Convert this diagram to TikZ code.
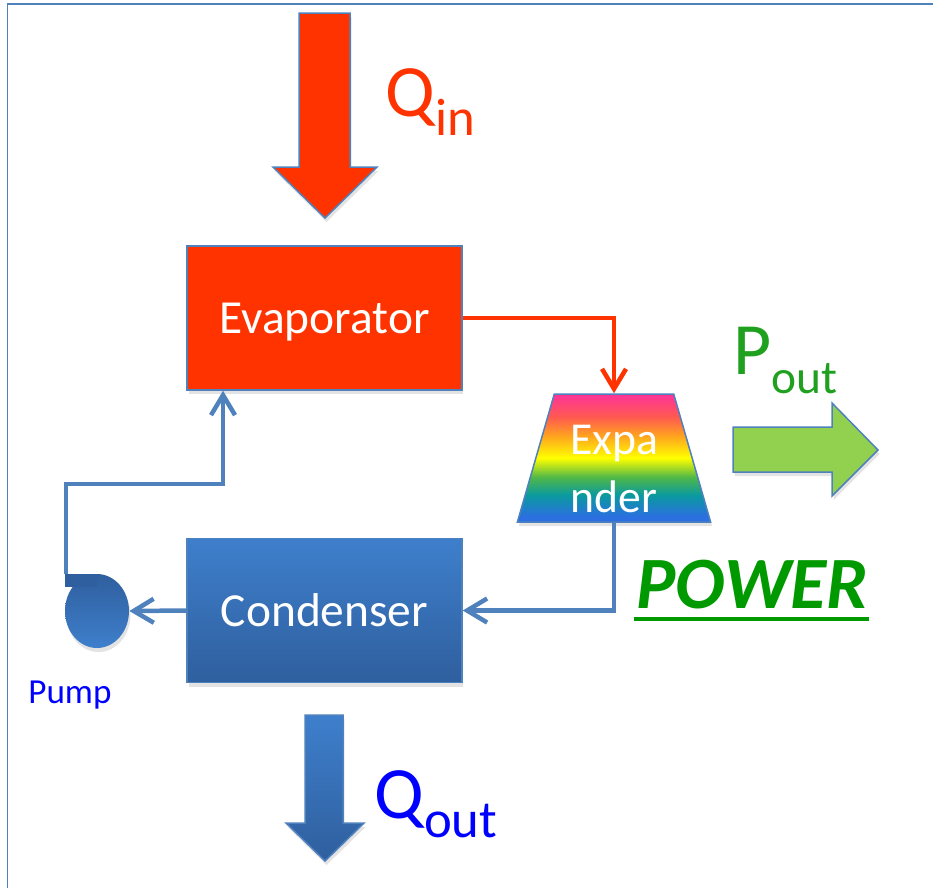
\documentclass[tikz,border=0pt]{standalone}
\usepackage{fontspec}
\setmainfont{Carlito}
\usetikzlibrary{positioning,arrows.meta,shapes.geometric,shadows,calc}
\definecolor{fire}{HTML}{FF3300}
\definecolor{steel}{HTML}{4F81BD}
\definecolor{coldtop}{HTML}{3E7FCC}
\definecolor{coldbot}{HTML}{2F5F9E}
\definecolor{leaf}{HTML}{92D050}
\definecolor{grass}{HTML}{009900}
\definecolor{pgreen}{HTML}{1FA01F}
\definecolor{ink}{HTML}{0000FF}
\definecolor{rbblue}{HTML}{2B6FE0}
\definecolor{rbteal}{HTML}{0A9AA0}
\definecolor{rbgreen}{HTML}{50B848}
\definecolor{rbyellow}{HTML}{FFFF00}
\definecolor{rborange}{HTML}{FFA020}
\definecolor{rbred}{HTML}{FF5A50}
\definecolor{rbpink}{HTML}{FF3399}
\pgfdeclareverticalshading{rainbow}{100bp}{color(0bp)=(rbblue); color(27bp)=(rbblue);
  color(35.5bp)=(rbteal); color(42.5bp)=(rbgreen); color(50bp)=(rbyellow); color(59bp)=(rborange);
  color(66bp)=(rbred); color(75bp)=(rbpink); color(100bp)=(rbpink)}
\newcommand{\flow}[3][30]{\fontsize{42}{46}\selectfont #2\raisebox{-0.38cm}{\fontsize{#1}{32}\selectfont #3}}
\tikzset{
  lift/.style    ={drop shadow={opacity=.22, shadow xshift=.3mm, shadow yshift=-.8mm}},
  unit/.style    ={draw=steel, line width=.3mm, minimum width=5.5cm, minimum height=2.88cm, inner sep=0pt,
                   text=white, text depth=0pt, font=\fontsize{27}{30}\selectfont, lift},
  evapbox/.style ={unit, fill=fire},
  condbox/.style ={unit, top color=coldtop, bottom color=coldbot},
  expbox/.style  ={trapezium, trapezium left angle=76, trapezium right angle=76, trapezium stretches=true,
                   minimum width=3.88cm, minimum height=2.56cm, inner sep=0pt, draw=steel, line width=.3mm,
                   shade, shading=rainbow, text=white, align=center, text height=62pt, text depth=0pt,
                   font=\fontsize{26}{33}\selectfont, lift},
  pumpbody/.style={ellipse, minimum width=1.28cm, minimum height=1.48cm, inner sep=0pt,
                   top color=coldbot, bottom color=coldtop, lift},
  hot/.style     ={draw=fire,  line width=.9mm, -{Straight Barb[length=4mm,width=4.8mm]}},
  cold/.style    ={draw=steel, line width=.9mm, -{Straight Barb[length=4mm,width=4.8mm]}},
  bigin/.style   ={fill=fire, draw=steel, line width=.3mm, lift},
  bigout/.style  ={top color=coldtop, bottom color=coldbot, draw=steel, line width=.3mm, lift},
  bigpow/.style  ={fill=leaf, draw=steel, line width=.3mm, lift},
  lbl/.style     ={anchor=base west, inner sep=0pt},
}

\begin{document}
\begin{tikzpicture}[x=0.02cm, y=-0.02cm]
    \useasboundingbox (0,0) rectangle (933,887);
    \clip (0,0) rectangle (933,887);
    \draw[steel, line width=.4mm] (7.5,3.5) rectangle (960,920);

    \filldraw[bigin] (299,13) -- (350,13) -- (350,167) -- (377,167) -- (325,218) -- (273,167) -- (299,167) -- cycle;
    \filldraw[bigpow] (733,427) -- (832,427) -- (832,403) -- (878,450) -- (832,496) -- (832,472) -- (733,472) -- cycle;
    \shade[bigout] (305,715) -- (343,715) -- (343,823) -- (364,823) -- (325,861) -- (286,823) -- (305,823) -- cycle;

    \node[evapbox] (evap) at (324.5,318) {Evaporator};
    \node[condbox] (cond) at (324.5,610.5) {Condenser};
    \node[expbox] (expander) at (614,458) {Expa\\nder};
    \node[pumpbody] (pump) at (97,611) {};
    \fill[coldbot] (65,574) rectangle (97,587);
    \coordinate (outlet) at (66,574);
    \coordinate (riser) at (223,484);

    \node[lbl, text=fire] (qin) at (385,116) {\flow{Q}{in}};
    \node[lbl, text=pgreen] (pout) at (733,374) {\flow[27]{P}{out}};
    \node[lbl, text=ink] (qout) at (374,818) {\flow{Q}{out}};
    \node[lbl, text=grass, font=\fontsize{42}{46}\selectfont\bfseries\itshape] (power) at (636,608) {POWER};
    \draw[grass, line width=.8mm] ($(power.base west)+(-2,11)$) -- ($(power.base east)+(0,11)$);
    \node[lbl, text=ink, font=\fontsize{20}{24}\selectfont] (pumplbl) at (28,703) {Pump};

    \draw[hot] (evap.east) -| (expander.north);
    \draw[cold] (expander.south) |- (cond.east);
    \draw[cold] (cond.west) -- (pump.east);
    \draw[cold] (outlet) |- (riser) -- (riser |- evap.south);
  \end{tikzpicture}
\end{document}
